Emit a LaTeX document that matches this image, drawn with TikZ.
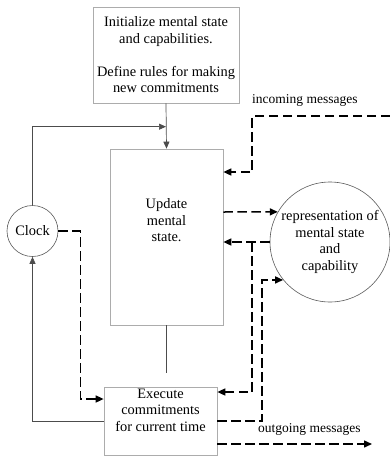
\documentclass[tikz,border=0pt]{standalone}
\usepackage{fontspec}
\setmainfont{Liberation Serif}
\usepackage{tikz}
\usetikzlibrary{arrows.meta,positioning}
\newcommand\mainfs{\fontsize{14.4}{16.5}\selectfont}
\newcommand\lblfs{\fontsize{13.5}{15}\selectfont}
\tikzset{
  box/.style={draw=gray!65, line width=0.7pt, align=center, inner sep=2pt, font=\mainfs},
  txt/.style={align=center, inner sep=0pt, font=\mainfs},
  circ/.style={draw=gray!70!black, line width=0.6pt, circle, align=center, inner sep=0pt, font=\mainfs},
  lbl/.style={inner sep=0pt, font=\lblfs},
  wire/.style={draw=gray!60!black, line width=0.7pt},
  arrow/.style={wire, -{Triangle[length=7pt,width=6pt]}},
  dline/.style={draw=black, line width=1.5pt, dash pattern=on 9.5pt off 4.5pt},
  darrow/.style={dline, -{Triangle[length=8pt,width=7pt]}}
}
\begin{document}
\begin{tikzpicture}[x=1pt, y=-1pt]
    \useasboundingbox (0,0) rectangle (390,456);
    % Nodes
    \node[box, minimum width=146pt, minimum height=96pt] (init) at (166,55)
      {Initialize mental state\\and capabilities.\\[16.5pt]Define rules for making\\new commitments};
    \node[box, minimum width=113pt, minimum height=176pt] (upd) at (166.5,237) {};
    \node[txt, below=50pt of upd.north] (updtxt) {Update\\mental\\state.};
    \node[box, minimum width=113pt, minimum height=68pt] (exec) at (160.5,421) {};
    \node[txt, below=2pt of exec.north] (exectxt) {Execute\\commitments\\for current time};
    \node[circ, minimum size=51pt] (clock) at (32.5,231) {Clock};
    \node[circ, minimum size=120pt] (rep) at (330,242)
      {representation of\\mental state\\and\\capability};
    \node[lbl, anchor=west] (inlbl) at (252,100) {incoming messages};
    \node[lbl, anchor=west] (outlbl) at (258,429) {outgoing messages};

    % Free ends and bends
    \coordinate (join) at (166,126.7);
    \coordinate (inc) at (390,116);
    \coordinate (inA) at (252,172);
    \coordinate (brA) at (252,242);
    \coordinate (rA) at ([xshift=-21pt]rep.219);
    \coordinate (outg) at (372,444);
    \coordinate (updEnd) at (166.5,373);

    % Solid lines
    \draw[arrow] (init.south) -- (upd.north);
    \draw[arrow] (clock.north) |- (join);
    \draw[arrow] (exec.west) -| (clock.south);
    \draw[wire] (upd.south) -- (updEnd);

    % Dashed lines
    \draw[darrow] (clock.east) -- ++(22,0) |- ([yshift=22pt]exec.west);
    \draw[darrow] (inc) -| (inA) -- (inA -| upd.east);
    \draw[darrow] ([yshift=25pt]upd.east) -- (rep.150);
    \draw[darrow] (rep.west) -- (rep.west -| upd.east);
    \draw[darrow] (brA) |- ([yshift=29pt]exec.east);
    \draw[darrow] (exec.east) -| (rA) -- (rep.219);
    \draw[darrow] ([yshift=-23pt]exec.east) -- (outg);
  \end{tikzpicture}
\end{document}
